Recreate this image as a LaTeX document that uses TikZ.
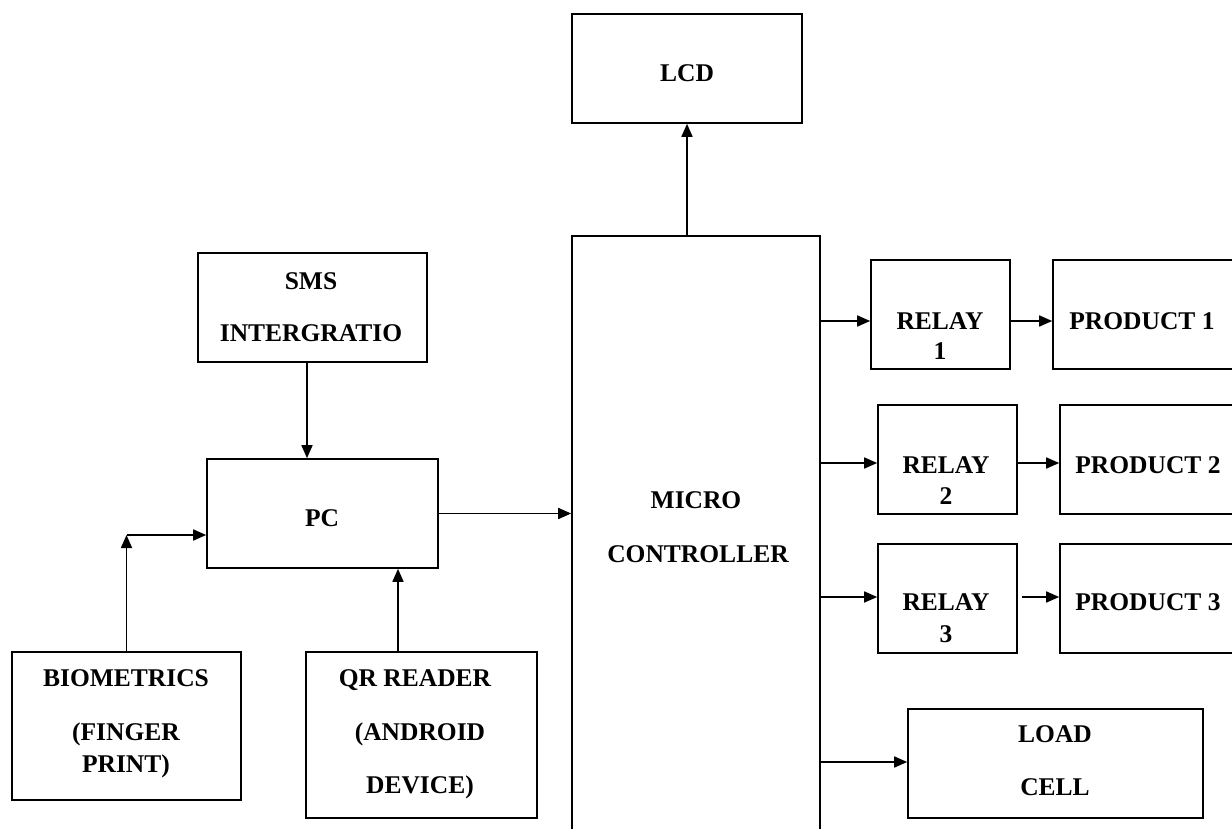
\documentclass[tikz,border=0pt]{standalone}
\usepackage{fontspec}
\setmainfont{Liberation Serif}
\usetikzlibrary{arrows.meta}
\begin{document}
\begin{tikzpicture}[x=1pt,y=-1pt,
  blk/.style={draw,line width=1.6pt,inner sep=0pt,rectangle},
  lbl/.style={font=\fontsize{25.5}{28}\selectfont\bfseries,anchor=base,inner sep=0pt},
  arr/.style={line width=1.6pt,-{Triangle[length=13pt,width=11pt]}},
  ln/.style={line width=1.6pt}]
\useasboundingbox (0,0) rectangle (1232,829);
\clip (0,0) rectangle (1232,829);
% boxes
\node[blk,minimum width=230,minimum height=109] (lcd) at (687,68.5) {};
\node[blk,minimum width=248,minimum height=664] (mc) at (696,568) {};
\node[blk,minimum width=229,minimum height=109] (sms) at (312.5,307.5) {};
\node[blk,minimum width=231,minimum height=109] (pc) at (322.5,513.5) {};
\node[blk,minimum width=229,minimum height=148] (bio) at (126.5,726) {};
\node[blk,minimum width=231,minimum height=166] (qr) at (421.5,735) {};
\node[blk,minimum width=139,minimum height=109] (r1) at (940.5,314.5) {};
\node[blk,minimum width=247,minimum height=109] (p1) at (1176.5,314.5) {};
\node[blk,minimum width=139,minimum height=109] (r2) at (947.5,459.5) {};
\node[blk,minimum width=240,minimum height=109] (p2) at (1180,459.5) {};
\node[blk,minimum width=139,minimum height=109] (r3) at (947.5,598.5) {};
\node[blk,minimum width=240,minimum height=109] (p3) at (1180,598.5) {};
\node[blk,minimum width=295,minimum height=109] (load) at (1055.5,763.5) {};
% labels
\node[lbl] (tlcd) at (687,82) {LCD};
\node[lbl] (tmc1) at (696,508) {MICRO};
\node[lbl] (tmc2) at (698,562) {CONTROLLER};
\node[lbl] (tsms1) at (311,289) {SMS};
\node[lbl] (tsms2) at (311,341) {INTERGRATIO};
\node[lbl] (tpc) at (322,526) {PC};
\node[lbl] (tbio1) at (126,686) {BIOMETRICS};
\node[lbl] (tbio2) at (126,740) {(FINGER};
\node[lbl] (tbio3) at (126,772) {PRINT)};
\node[lbl] (tqr1) at (415,686) {QR READER};
\node[lbl] (tqr2) at (420,740) {(ANDROID};
\node[lbl] (tqr3) at (420,793) {DEVICE)};
\node[lbl] (tr1a) at (940,329) {RELAY};
\node[lbl] (tr1b) at (940,359) {1};
\node[lbl] (tp1) at (1142,329) {PRODUCT 1};
\node[lbl] (tr2a) at (946,473) {RELAY};
\node[lbl] (tr2b) at (946,504) {2};
\node[lbl] (tp2) at (1148,473) {PRODUCT 2};
\node[lbl] (tr3a) at (946,610) {RELAY};
\node[lbl] (tr3b) at (946,642) {3};
\node[lbl] (tp3) at (1148,610) {PRODUCT 3};
\node[lbl] (tl1) at (1055,742) {LOAD};
\node[lbl] (tl2) at (1055,795) {CELL};
% connectors
\draw[arr] (lcd.south |- mc.north) -- (lcd.south);
\draw[arr] ([xshift=-5.5pt]sms.south) -- ([xshift=-5.5pt]sms.south |- pc.north);
\coordinate (bk) at (126.5,535);
\draw[arr] (bio.north) -- (bk);
\draw[arr] (bk) -- (bk -| pc.west);
\draw[arr] ([xshift=-23.5pt]qr.north) -- ([xshift=-23.5pt]qr.north |- pc.south);
\draw[arr] (pc.east) -- (pc.east -| mc.west);
\draw[arr] ([yshift=-6.5pt]r1.west -| mc.east) -- ([yshift=-6.5pt]r1.west);
\draw[arr] ([yshift=-6.5pt]r1.east) -- ([yshift=-6.5pt]r1.east -| p1.west);
\draw[arr] ([yshift=-3.5pt]r2.west -| mc.east) -- ([yshift=-3.5pt]r2.west);
\draw[arr] ([yshift=-3.5pt]r2.east) -- ([yshift=-3.5pt]r2.east -| p2.west);
\draw[arr] ([yshift=1.5pt]r3.west -| mc.east) -- ([yshift=1.5pt]r3.west);
\draw[arr] ([xshift=4pt,yshift=1.5pt]r3.east) -- ([yshift=1.5pt]r3.east -| p3.west);
\draw[arr] ([yshift=1.5pt]load.west -| mc.east) -- ([yshift=1.5pt]load.west);
\end{tikzpicture}
\end{document}
